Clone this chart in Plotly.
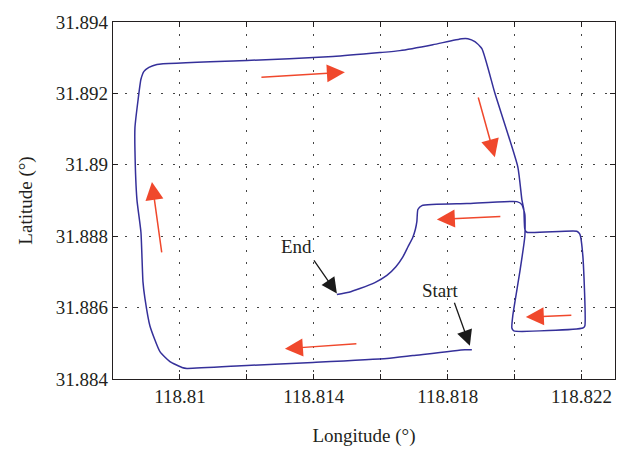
import plotly.graph_objects as go

# Trajectory (longitude, latitude), in travel order from Start to End
lon = [118.818723, 118.818514, 118.81696, 118.816184, 118.813973, 118.812001, 118.810209,
       118.81006, 118.809701, 118.809403, 118.809104, 118.808954, 118.808895, 118.808835,
       118.808715, 118.808656, 118.808656, 118.808745, 118.808835, 118.808925, 118.809074,
       118.809313, 118.812001, 118.81457, 118.815975, 118.816572, 118.817558, 118.818424,
       118.818603, 118.818813, 118.819022, 118.81941, 118.820097, 118.820217, 118.820276,
       118.820306, 118.820366, 118.821859, 118.821949, 118.822039, 118.822098, 118.822039,
       118.819977, 118.819918, 118.819948, 118.820157, 118.820306, 118.820306, 118.820217,
       118.820067, 118.818573, 118.817229, 118.81711, 118.81708, 118.817036, 118.81696,
       118.816811, 118.816662, 118.816453, 118.816184, 118.815825, 118.815377, 118.81505,
       118.81469]
lat = [31.884821, 31.884821, 31.884655, 31.884572, 31.884462, 31.884379, 31.884296,
       31.884323, 31.884489, 31.884766, 31.885485, 31.886259, 31.886729, 31.888111,
       31.889024, 31.890406, 31.891042, 31.891788, 31.892396, 31.892618, 31.892728,
       31.892811, 31.892922, 31.893032, 31.893143, 31.893198, 31.893364, 31.89353,
       31.89353, 31.893447, 31.893254, 31.892009, 31.889936, 31.889024, 31.888747,
       31.888194, 31.888111, 31.888139, 31.888056, 31.887448, 31.885485, 31.88543,
       31.885347, 31.88543, 31.885789, 31.887005, 31.888, 31.888609, 31.888885,
       31.888968, 31.888913, 31.888858, 31.888747, 31.888415, 31.888194, 31.887973,
       31.887697, 31.88742, 31.887144, 31.8869, 31.886701, 31.886535, 31.886432,
       31.886369]

# Direction arrows: tail -> head
dir_tail_lon = [118.81239, 118.818902, 118.809462, 118.815317, 118.819619, 118.82174]
dir_tail_lat = [31.892452, 31.891926, 31.887503, 31.884987, 31.888553, 31.885789]
dir_head_lon = [118.814929, 118.81941, 118.809164, 118.813137, 118.817677, 118.820336]
dir_head_lat = [31.89259, 31.890212, 31.889521, 31.884849, 31.888471, 31.885734]

# Labelled arrows
lab_text = ["End", "Start"]
lab_text_lon = [118.813495, 118.817797]
lab_text_lat = [31.887724, 31.88648]
lab_tail_lon = [118.813973, 118.818185]
lab_tail_lat = [31.887365, 31.886176]
lab_head_lon = [118.81469, 118.818663]
lab_head_lat = [31.886397, 31.884932]

x_tickvals = [118.81, 118.812, 118.814, 118.816, 118.818, 118.82, 118.822]
x_ticktext = ["118.81", "", "118.814", "", "118.818", "", "118.822"]
y_tickvals = [31.884, 31.886, 31.888, 31.89, 31.892, 31.894]
y_ticktext = ["31.884", "31.886", "31.888", "31.89", "31.892", "31.894"]

FONT = "Liberation Serif"
TXT = "#231f20"
fig = go.Figure()
fig.add_trace(go.Scatter(x=lon, y=lat, mode="lines",
                         line=dict(color="#35309a", width=1.5, shape="spline", smoothing=0.5),
                         showlegend=False, hoverinfo="skip"))

anns = []
for tx, ty, hx, hy in zip(dir_tail_lon, dir_tail_lat, dir_head_lon, dir_head_lat):
    anns.append(dict(x=hx, y=hy, ax=tx, ay=ty, xref="x", yref="y", axref="x", ayref="y",
                     text="", showarrow=True, arrowhead=2, arrowsize=2.4, arrowwidth=1.5,
                     arrowcolor="#f0482c", standoff=0))
for t, txx, tyy, tx, ty, hx, hy in zip(lab_text, lab_text_lon, lab_text_lat,
                                       lab_tail_lon, lab_tail_lat, lab_head_lon, lab_head_lat):
    anns.append(dict(x=hx, y=hy, ax=tx, ay=ty, xref="x", yref="y", axref="x", ayref="y",
                     text="", showarrow=True, arrowhead=2, arrowsize=2.4, arrowwidth=1.3,
                     arrowcolor="#1a1a1a", standoff=0))
    anns.append(dict(x=txx, y=tyy, xref="x", yref="y", text=t, showarrow=False,
                     font=dict(family=FONT, size=19, color=TXT)))

axis_common = dict(showline=True, linecolor=TXT, linewidth=1.2, mirror="allticks",
                   ticks="inside", ticklen=5, tickcolor=TXT, tickwidth=1,
                   showgrid=True, gridcolor="#444444", gridwidth=1, griddash="2px,10px",
                   zeroline=False, tickfont=dict(family=FONT, size=19, color=TXT))

fig.update_xaxes(range=[118.808, 118.823], tickmode="array", tickvals=x_tickvals,
                 ticktext=x_ticktext,
                 title=dict(text="Longitude (°)", font=dict(family=FONT, size=19, color=TXT),
                            standoff=22),
                 **axis_common)
fig.update_yaxes(range=[31.884, 31.894], tickmode="array", tickvals=y_tickvals,
                 ticktext=y_ticktext,
                 title=dict(text="Latitude (°)", font=dict(family=FONT, size=19, color=TXT),
                            standoff=18),
                 **axis_common)

fig.update_layout(width=633, height=454, margin=dict(l=113, r=18, t=20, b=72),
                  plot_bgcolor="white", paper_bgcolor="white", annotations=anns)
fig.write_html("out.html")
